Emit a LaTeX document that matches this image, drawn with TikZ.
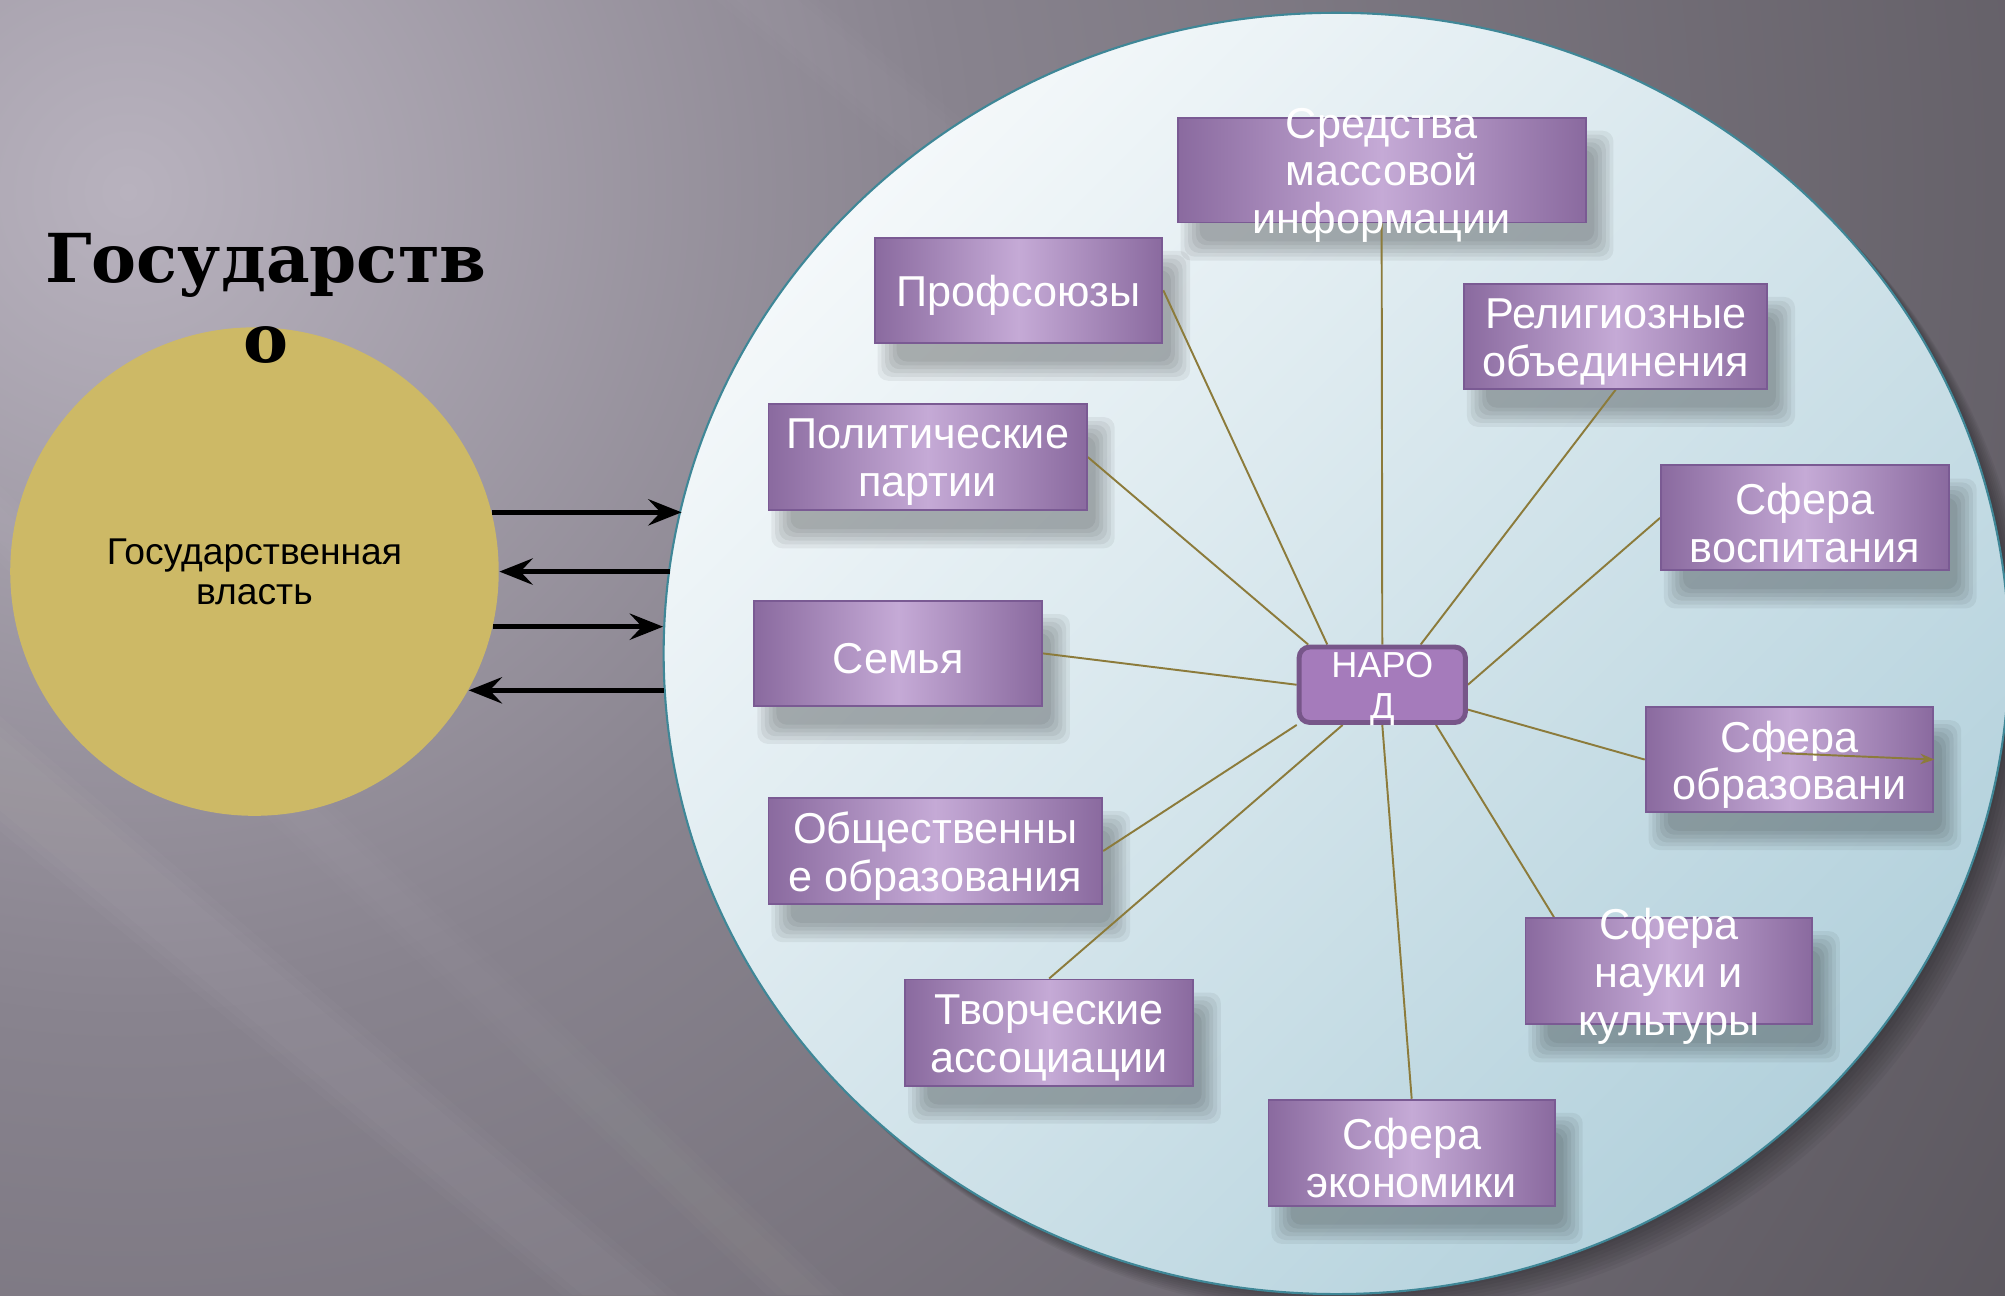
\documentclass[tikz,border=0pt]{standalone}
\usepackage{fontspec}
\setmainfont{Liberation Sans}
\newfontfamily\titlefont{DejaVu Serif}
\usetikzlibrary{shapes.geometric,arrows.meta,calc}
\pgfdeclarelayer{back}
\pgfdeclarelayer{shad}
\pgfdeclarelayer{mid}
\pgfsetlayers{back,shad,mid,main}
\def\U{0.012787}
\definecolor{bgA}{HTML}{B8B2BE}
\definecolor{bgB}{HTML}{88838E}
\definecolor{bgC}{HTML}{58545B}
\definecolor{ellL}{HTML}{F4F8FA}
\definecolor{ellD}{HTML}{B3D1DC}
\definecolor{ellB}{HTML}{3F8797}
\definecolor{govY}{HTML}{CDB966}
\definecolor{boxE}{HTML}{8A6A9F}
\definecolor{boxM}{HTML}{C5AAD6}
\definecolor{boxB}{HTML}{7A5A93}
\definecolor{narF}{HTML}{A57BBB}
\definecolor{narB}{HTML}{775689}
\definecolor{conC}{HTML}{8C7B3B}
\pgfdeclareradialshading{bgrad}{\pgfpoint{0bp}{0bp}}{color(0bp)=(bgA); color(9bp)=(bgB); color(25bp)=(bgC); color(50bp)=(bgC)}
\newcommand\bshadow[1]{%
  \foreach \e in {-6,-3,0,3,6,9}{%
    \fill[black, opacity=0.055, rounded corners=3pt] ($(#1.north west)+(12-\e,20-\e)$) rectangle ($(#1.south east)+(12+\e,20+\e)$);}}
\begin{document}
\begin{tikzpicture}[x=0.012787cm, y=-0.012787cm,
  sz/.style 2 args={minimum width={#1*\U*1cm}, minimum height={#2*\U*1cm}},
  pbox/.style={rectangle, draw=boxB, line width=0.55pt, left color=boxE, right color=boxE, middle color=boxM, inner sep=0pt},
  btxt/.style={text=white, align=center, font=\fontsize{12.3}{13.6}\selectfont, inner sep=0pt, yshift=-1.5pt},
  con/.style={draw=conC, line width=0.55pt},
  arr/.style={line width=1.3pt, -{Stealth[length=9.5pt,width=7.5pt,inset=3.5pt]}}]
\useasboundingbox (0,0) rectangle (1568,1013);
\begin{pgfonlayer}{back}
\begin{scope}
\clip (0,0) rectangle (1568,1013);
\shade[shading=bgrad] (100,150) circle (1800);
\foreach \o in {0,8,16} {
\fill[white, opacity=0.018] (0,560+\o) -- (0,650-\o) -- (440+\o,1013) -- (530-\o,1013) -- cycle;
\fill[white, opacity=0.016] (0,380+\o) -- (0,440-\o) -- (600+\o,1013) -- (660-\o,1013) -- cycle;
\fill[white, opacity=0.014] (560+\o,0) -- (640-\o,0) -- (1000-\o,300) -- (950+\o,320) -- cycle;}
\foreach \k in {2,4,...,16} \fill[black, opacity=0.045] (1045+\k*1.1, 511+\k*1.1) ellipse [x radius=526, y radius=501];
\end{scope}
\node[ellipse, draw=ellB, line width=0.6pt, top color=ellL, bottom color=ellD, shading angle=45,
  inner sep=0pt, sz={1052}{1002}] (ell) at (1045,511) {};
\node[circle, fill=govY, minimum size={382*\U*1cm}, inner sep=0pt, align=center,
  font=\fontsize{10.6}{11.4}\selectfont] (gov) at (199,447) {Государственная\\власть};
\node[align=center, inner sep=0pt, font=\titlefont\bfseries\fontsize{19.2}{22.6}\selectfont] (title) at (208,233.5) {Государств\\о};
\draw[arr] (gov.14.5) -- (gov.14.5 -| ell.167.7);
\draw[arr] (gov.0.3 -| ell.172.9) -- (gov.0.3);
\draw[arr] (gov.-13.9) -- (gov.-13.9 -| ell.178.0);
\draw[arr] (gov.-29.48 -| ell.183.27) -- (gov.-29.48);
\end{pgfonlayer}

\node[pbox, sz={319}{82}, label={[btxt]center:{Средства\\массовой\\информации}}] (smi) at (1080.5,133) {};
\node[pbox, sz={225}{82}, label={[btxt]center:{Профсоюзы}}] (prof) at (796.5,227) {};
\node[pbox, sz={237}{82}, label={[btxt]center:{Религиозные\\объединения}}] (rel) at (1263.5,263) {};
\node[pbox, sz={249}{83}, label={[btxt]center:{Политические\\партии}}] (pol) at (725.5,357.5) {};
\node[pbox, sz={225}{82}, label={[btxt]center:{Сфера\\воспитания}}] (vosp) at (1411.5,405) {};
\node[pbox, sz={225}{82}, label={[btxt]center:{Семья}}] (sem) at (702.5,511) {};
\node[pbox, sz={225}{82}, label={[btxt]center:{Сфера\\образовани}}] (obr) at (1399.5,594) {};
\node[pbox, sz={261}{83}, label={[btxt]center:{Общественны\\е образования}}] (obsh) at (731.5,665.5) {};
\node[pbox, sz={224}{83}, label={[btxt]center:{Сфера\\науки и\\культуры}}] (nauk) at (1305,759.5) {};
\node[pbox, sz={225}{83}, label={[btxt]center:{Творческие\\ассоциации}}] (tvor) at (820.5,807.5) {};
\node[pbox, sz={224}{83}, label={[btxt]center:{Сфера\\экономики}}] (econ) at (1104,901.5) {};
\node[rectangle, rounded corners=3pt, draw=narB, line width=1.4pt, fill=narF, inner sep=0pt, sz={130}{59},
  label={[text=white, align=center, inner sep=0pt, yshift=-1.1pt, font=\fontsize{10.3}{11.6}\selectfont]center:{НАРО\\Д}}] (narod) at (1081,535.5) {};

\begin{pgfonlayer}{shad}
\bshadow{smi}\bshadow{prof}\bshadow{rel}\bshadow{pol}\bshadow{vosp}\bshadow{sem}
\bshadow{obr}\bshadow{obsh}\bshadow{nauk}\bshadow{tvor}\bshadow{econ}
\end{pgfonlayer}

\begin{pgfonlayer}{mid}
\draw[con] (smi.south) -- (narod.north);
\draw[con] (prof.east) -- ($(narod.north)+(-43,0)$);
\draw[con] (rel.south) -- ($(narod.north)+(30,0)$);
\draw[con] (pol.east) -- ($(narod.north west)+(9,0)$);
\draw[con] (vosp.west) -- (narod.east);
\draw[con] (sem.east) -- (narod.west);
\draw[con] (obr.west) -- ($(narod.south east)+(0,-12)$);
\draw[con] (obsh.east) -- (narod.south west);
\draw[con] (tvor.north) -- ($(narod.south)+(-31,0)$);
\draw[con] (econ.north) -- (narod.south);
\draw[con] ($(nauk.north west)+(23,0)$) -- ($(narod.south)+(42,0)$);
\end{pgfonlayer}
\coordinate (obrA) at ($(obr.center)+(-6,-5)$);
\draw[con, -{Stealth[length=4pt,width=3pt]}] (obrA) -- (obr.east);
\end{tikzpicture}
\end{document}
